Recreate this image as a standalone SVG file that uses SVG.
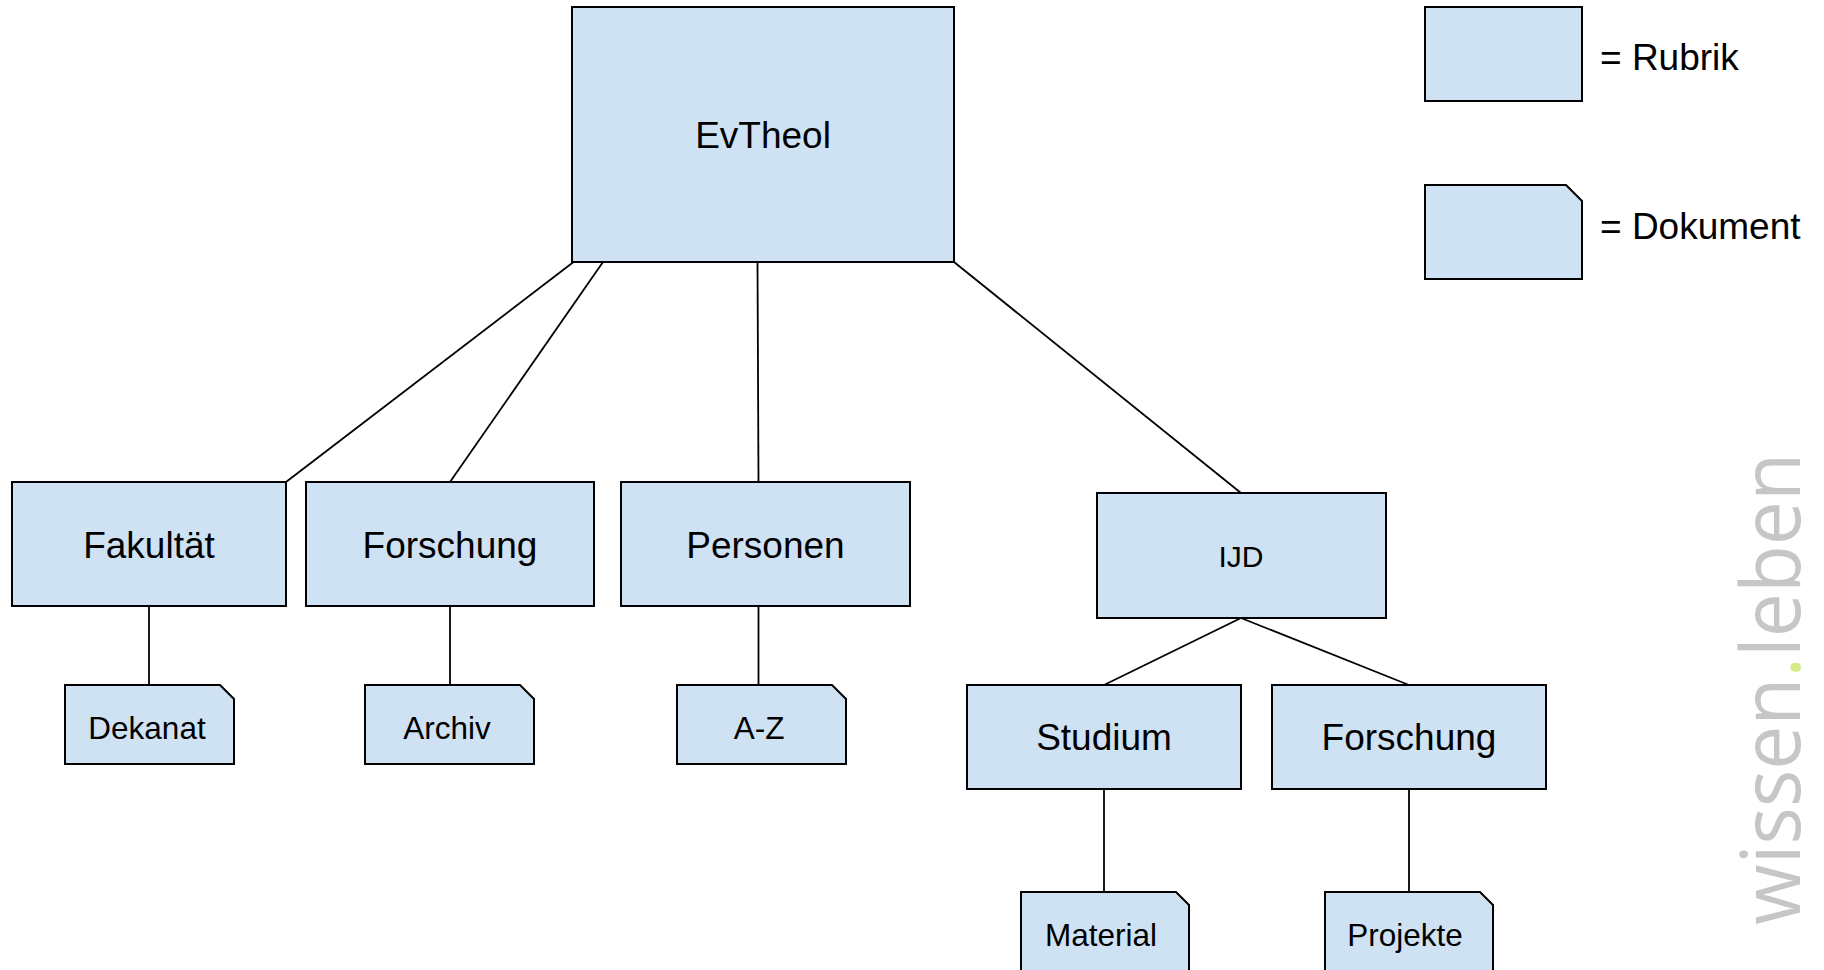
<svg xmlns="http://www.w3.org/2000/svg" width="1824" height="970" viewBox="0 0 1824 970">
  <style>
    .box { fill: #cfe2f3; stroke: #000; stroke-width: 2; }
    .lbl { font-family: "Liberation Sans", Arial, sans-serif; fill: #000; text-anchor: middle; }
    .big { font-size: 37px; }
    .mid { font-size: 30px; }
    .small { font-size: 31.5px; }
    .leg { font-family: "Liberation Sans", Arial, sans-serif; font-size: 37px; fill: #000; }
    .con line { stroke: #000; stroke-width: 1.8; fill: none; }
  </style>
  <rect width="1824" height="970" fill="#fff"/>

  <g id="connectors" class="con">
    <line x1="573.5" y1="262" x2="286" y2="482"/>
    <line x1="603" y1="262" x2="450" y2="482"/>
    <line x1="757.5" y1="262" x2="758.5" y2="482"/>
    <line x1="954" y1="262" x2="1241" y2="493"/>
    <line x1="149" y1="606" x2="149" y2="685"/>
    <line x1="450" y1="606" x2="450" y2="685"/>
    <line x1="758.5" y1="606" x2="758.5" y2="685"/>
    <line x1="1241" y1="618" x2="1104" y2="685"/>
    <line x1="1241" y1="618" x2="1409" y2="685"/>
    <line x1="1104" y1="789" x2="1104" y2="892"/>
    <line x1="1409" y1="789" x2="1409" y2="892"/>
  </g>

  <g id="node-evtheol">
    <rect class="box" x="572" y="7" width="382" height="255"/>
    <text class="lbl big" x="763" y="148">EvTheol</text>
  </g>

  <g id="node-fakultaet">
    <rect class="box" x="12" y="482" width="274" height="124"/>
    <text class="lbl big" x="149" y="558">Fakultät</text>
  </g>
  <g id="node-forschung">
    <rect class="box" x="306" y="482" width="288" height="124"/>
    <text class="lbl big" x="450" y="558">Forschung</text>
  </g>
  <g id="node-personen">
    <rect class="box" x="621" y="482" width="289" height="124"/>
    <text class="lbl big" x="765.5" y="558">Personen</text>
  </g>
  <g id="node-ijd">
    <rect class="box" x="1097" y="493" width="289" height="125"/>
    <text class="lbl mid" x="1241" y="567">IJD</text>
  </g>
  <g id="node-studium">
    <rect class="box" x="967" y="685" width="274" height="104"/>
    <text class="lbl big" x="1104" y="750">Studium</text>
  </g>
  <g id="node-forschung-ijd">
    <rect class="box" x="1272" y="685" width="274" height="104"/>
    <text class="lbl big" x="1409" y="750">Forschung</text>
  </g>

  <g id="node-dekanat">
    <path class="box" d="M65,685 H220 L234,699 V764 H65 Z"/>
    <text class="lbl small" x="147" y="738.5">Dekanat</text>
  </g>
  <g id="node-archiv">
    <path class="box" d="M365,685 H520 L534,699 V764 H365 Z"/>
    <text class="lbl small" x="447" y="738.5">Archiv</text>
  </g>
  <g id="node-az">
    <path class="box" d="M677,685 H832 L846,699 V764 H677 Z"/>
    <text class="lbl small" x="759" y="738.5">A-Z</text>
  </g>
  <g id="node-material">
    <path class="box" d="M1021,892 H1176 L1189,905 V975 H1021 Z"/>
    <text class="lbl small" x="1101" y="946">Material</text>
  </g>
  <g id="node-projekte">
    <path class="box" d="M1325,892 H1480 L1493,905 V975 H1325 Z"/>
    <text class="lbl small" x="1405" y="946">Projekte</text>
  </g>

  <g id="legend-rubrik">
    <rect class="box" x="1425" y="7" width="157" height="94"/>
    <text class="leg" x="1600" y="70">= Rubrik</text>
  </g>
  <g id="legend-dokument">
    <path class="box" d="M1425,185 H1566 L1582,201 V279 H1425 Z"/>
    <text class="leg" x="1600" y="239">= Dokument</text>
  </g>

  <g id="watermark">
    <text x="1800" y="925" transform="rotate(-90 1800 925)" font-family="'Open Sans', 'DejaVu Sans', sans-serif" font-weight="400" font-size="82" fill="#c6c6c6" textLength="472" lengthAdjust="spacingAndGlyphs">wissen<tspan fill="#d6ea8a">.</tspan>leben</text>
  </g>
</svg>
